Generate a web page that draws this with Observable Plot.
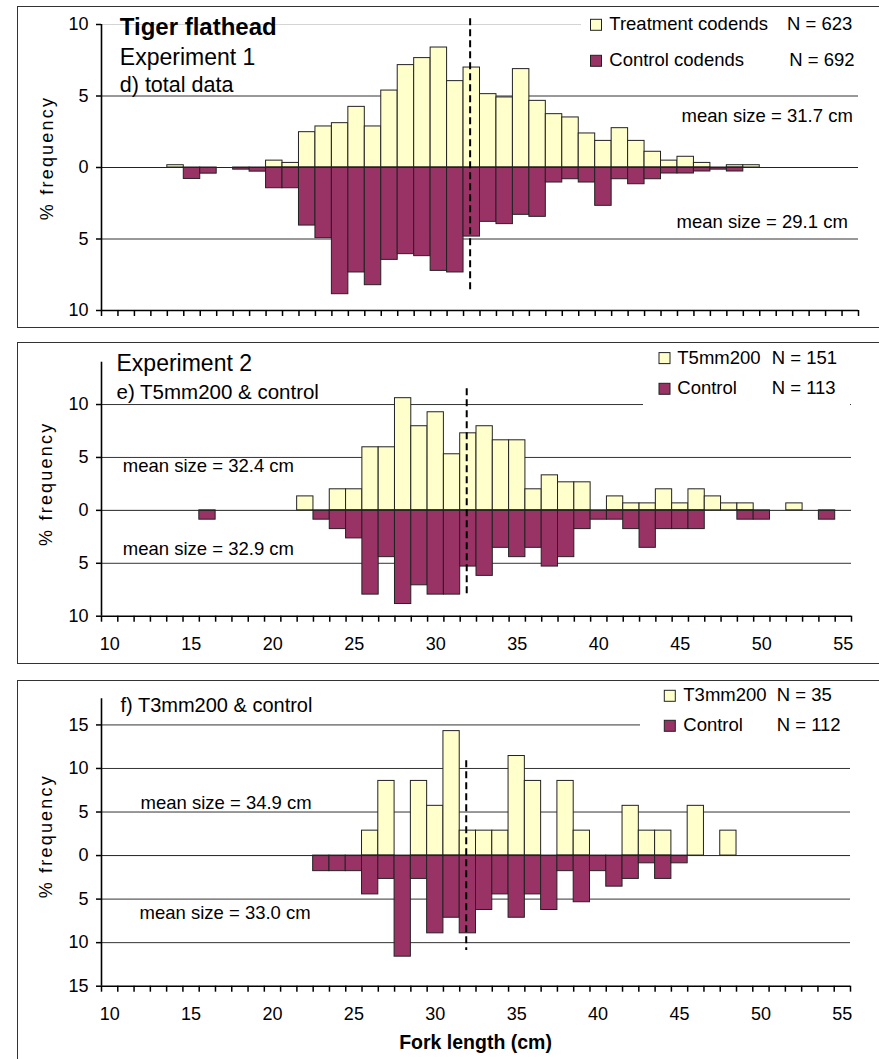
<!DOCTYPE html>
<html>
<head>
<meta charset="utf-8">
<script src="https://cdn.jsdelivr.net/npm/d3@7"></script>
<script src="https://cdn.jsdelivr.net/npm/@observablehq/plot@0.6"></script>
<style>
  html, body { margin: 0; padding: 0; background: #fff; overflow: hidden; }
  #page { position: relative; width: 879px; height: 1059px; overflow: hidden;
          font-family: "Liberation Sans", Arial, sans-serif; }
  .box { position: absolute; left: 17px; width: 900px; border: 1.5px solid #333; box-sizing: border-box; }
  .panel { position: absolute; left: 0; width: 879px; }
</style>
</head>
<body>
<div id="page"></div>
<script>
// ---------------- DATA ----------------
const forkTicks = [10, 15, 20, 25, 30, 35, 40, 45, 50, 55];
const dashedAt = 31.9;

// d) Experiment 1, total data
const dSeries = ["Treatment codends", "Control codends"];
const dN = [623, 692];
const dMeans = [31.7, 29.1];
const dTreatLen = [14,20,21,22,23,24,25,26,27,28,29,30,31,32,33,34,35,36,37,38,39,40,41,42,43,44,45,46,48,49];
const dTreatPct = [0.16,0.48,0.32,2.47,2.87,3.1,4.24,2.87,5.38,7.16,7.65,8.39,6.04,6.99,5.13,4.9,6.88,4.66,3.73,3.5,2.38,1.86,2.75,1.86,1.1,0.48,0.75,0.32,0.16,0.16];
const dCtrlLen = [15,16,18,19,20,21,22,23,24,25,26,27,28,29,30,31,32,33,34,35,36,37,38,39,40,41,42,43,44,45,46,47,48];
const dCtrlPct = [0.8,0.43,0.15,0.29,1.45,1.45,4.06,4.94,8.86,7.34,8.23,6.46,6.06,6.2,7.23,7.34,4.83,3.8,3.96,3.31,3.45,1.05,0.82,1.05,2.68,0.82,1.17,0.82,0.42,0.42,0.28,0.15,0.28];

// e) Experiment 2, T5mm200 & control
const eSeries = ["T5mm200", "Control"];
const eN = [151, 113];
const eMeans = [32.4, 32.9];
const eTreatLen = [22,24,25,26,27,28,29,30,31,32,33,34,35,36,37,38,39,41,42,43,44,45,46,47,48,49,52];
const eTreatPct = [1.32,1.99,1.99,5.96,5.96,10.6,7.95,9.27,5.3,7.28,7.95,6.62,6.62,1.99,3.31,2.65,2.65,1.32,0.66,0.66,1.99,0.66,1.99,1.32,0.66,0.66,0.66];
const eCtrlLen = [16,23,24,25,26,27,28,29,30,31,32,33,34,35,36,37,38,39,40,41,42,43,44,45,46,49,50,54];
const eCtrlPct = [0.88,0.88,1.77,2.65,7.96,4.42,8.85,7.08,7.96,7.96,5.31,6.19,3.54,4.42,3.54,5.31,4.42,1.77,0.88,0.88,1.77,3.54,1.77,1.77,1.77,0.88,0.88,0.88];

// f) T3mm200 & control
const fSeries = ["T3mm200", "Control"];
const fN = [35, 112];
const fMeans = [34.9, 33.0];
const fTreatLen = [26,27,29,30,31,32,33,34,35,36,38,39,42,43,44,46,48];
const fTreatPct = [2.86,8.57,8.57,5.71,14.29,2.86,2.86,2.86,11.43,8.57,8.57,2.86,5.71,2.86,2.86,5.71,2.86];
const fCtrlLen = [23,24,25,26,27,28,29,30,31,32,33,34,35,36,37,38,39,40,41,42,43,44,45];
const fCtrlPct = [1.79,1.79,1.79,4.46,2.68,11.61,2.68,8.93,7.14,8.93,6.25,4.46,7.14,4.46,6.25,1.79,5.36,1.79,3.57,2.68,0.89,2.68,0.89];

// ---------------- STYLE ----------------
const YELLOW = "#FFFFCC";
const PLUM = "#993366";
const FONT = "'Liberation Sans', Arial, sans-serif";
const xEdges = d3.range(9.5, 56, 1);

const rows = (lens, pcts) => lens.map((len, i) => ({len, pct: pcts[i]}));

function txt(p, s, x, base, fs, anchor = "start", bold = false) {
  return Plot.text([s], {
    text: d => d,
    frameAnchor: "top-left",
    dx: x - p.ml,
    dy: base - 0.71 * fs - p.mt,
    lineAnchor: "top",
    textAnchor: anchor,
    fontSize: fs,
    fontWeight: bold ? "bold" : "normal",
    fill: "black"
  });
}

function panel(p) {
  const plotH = p.height - p.mt - p.mb;
  const frameCy = p.mt + plotH / 2;
  const marks = [
    Plot.ruleY(p.lightGrid, {stroke: "#d4d4d4", strokeWidth: 1}),
    Plot.ruleY(p.grid, {stroke: "#333", strokeWidth: 1}),
    Plot.rect(rows(p.tLen, p.tPct), {x1: d => d.len - 0.5, x2: d => d.len + 0.5, y1: 0, y2: d => d.pct,
      fill: YELLOW, stroke: "#222", strokeWidth: 1}),
    Plot.rect(rows(p.cLen, p.cPct), {x1: d => d.len - 0.5, x2: d => d.len + 0.5, y1: 0, y2: d => -d.pct,
      fill: PLUM, stroke: "#222", strokeWidth: 1}),
    Plot.ruleY([0], {stroke: "#222", strokeWidth: 1}),
    Plot.ruleX([9.5], {stroke: "black", strokeWidth: 1.6}),
    Plot.ruleY([p.yDomain[0]], {stroke: "black", strokeWidth: 1.6}),
    Plot.ruleX([dashedAt], {y1: p.dash[0], y2: p.dash[1], stroke: "black", strokeWidth: 2, strokeDasharray: "7,4"}),
    Plot.axisY({ticks: p.yTicks, tickSize: 5, tickPadding: 8, tickFormat: d => String(Math.abs(d)),
      fontSize: 18, label: null, strokeWidth: 1.5}),
    Plot.axisX({ticks: xEdges, tickSize: 6, tickFormat: () => "", label: null, strokeWidth: 1.5}),
    Plot.text(["% frequency"], {text: d => d, frameAnchor: "left", dx: p.ylab[0] - p.ml, dy: p.ylab[1] - frameCy,
      rotate: -90, textAnchor: "middle", lineAnchor: "middle", fontSize: 18, fill: "black"})
  ];
  if (p.xLabels) marks.push(Plot.axisX({ticks: forkTicks, tickSize: 0, tickPadding: 21, fontSize: 18, label: null}));
  for (const t of p.texts) marks.push(txt(p, ...t));

  const svg = Plot.plot({
    width: 879, height: p.height,
    marginTop: p.mt, marginBottom: p.mb, marginLeft: p.ml, marginRight: p.mr,
    x: {type: "linear", domain: [9.5, 55.5]},
    y: {type: "linear", domain: p.yDomain},
    style: {fontFamily: FONT, fontSize: "18px", color: "black", background: "transparent", overflow: "visible"},
    marks
  });

  d3.select(svg).selectAll("text").filter(function () { return this.textContent === "% frequency"; })
    .attr("letter-spacing", "2.2px");

  // legend (white box hides the grid line behind it)
  const L = p.legend;
  const g = d3.select(svg).append("g")
    .attr("font-family", FONT).attr("font-size", 18.5).attr("text-anchor", "start").attr("fill", "black");
  g.append("rect").attr("x", L.bg[0]).attr("y", L.bg[1]).attr("width", L.bg[2]).attr("height", L.bg[3]).attr("fill", "white");
  [YELLOW, PLUM].forEach((c, i) => {
    g.append("rect").attr("x", L.sx).attr("y", L.base[i] - 11).attr("width", 11).attr("height", 11)
      .attr("fill", c).attr("stroke", "#222").attr("stroke-width", 1);
    g.append("text").attr("x", L.tx).attr("y", L.base[i]).attr("text-anchor", "start").text(p.series[i]);
    g.append("text").attr("x", L.nx[i]).attr("y", L.base[i]).attr("text-anchor", "start").text(`N = ${p.n[i]}`);
  });

  const wrap = document.createElement("div");
  wrap.className = "panel";
  wrap.style.top = p.top + "px";
  wrap.appendChild(svg);
  return wrap;
}

const page = document.getElementById("page");
[[6, 322], [342, 322], [680, 420]].forEach(([t, h]) => {
  const b = document.createElement("div");
  b.className = "box"; b.style.top = t + "px"; b.style.height = h + "px";
  page.appendChild(b);
});

const meanTxt = v => `mean size = ${v.toFixed(1)} cm`;

const P1 = {top: 0, height: 335, mt: 24, mb: 25, ml: 101, mr: 21,
  yDomain: [-10, 10], yTicks: [-10, -5, 0, 5, 10], grid: [5, -5], lightGrid: [10],
  dash: [10.4, -8.6], xLabels: false, ylab: [46.7, 157.5],
  tLen: dTreatLen, tPct: dTreatPct, cLen: dCtrlLen, cPct: dCtrlPct,
  series: dSeries, n: dN,
  legend: {bg: [581, 9, 277, 68], sx: 590.5, tx: 609.3, nx: [787, 789.3], base: [30.3, 66.3]},
  texts: [
    ["Tiger flathead", 119.3, 34.3, 24, "start", true],
    ["Experiment 1", 119.3, 64, 23],
    ["d) total data", 119.3, 91.7, 21.5],
    [meanTxt(dMeans[0]), 852.3, 121.7, 18.5, "end"],
    [meanTxt(dMeans[1]), 847.3, 227.7, 18.5, "end"]
  ]};

const P2 = {top: 335, height: 335, mt: 26.7, mb: 54.3, ml: 101, mr: 28,
  yDomain: [-10, 14], yTicks: [-10, -5, 0, 5, 10], grid: [10, 5, -5], lightGrid: [],
  dash: [11.5, -8.2], xLabels: true, ylab: [46, 148.3],
  tLen: eTreatLen, tPct: eTreatPct, cLen: eCtrlLen, cPct: eCtrlPct,
  series: eSeries, n: eN,
  legend: {bg: [643, 10, 207, 65], sx: 659, tx: 677.3, nx: [771.7, 771.7], base: [28.6, 59.3]},
  texts: [
    ["Experiment 2", 116, 35, 23],
    ["e) T5mm200 & control", 116, 63.3, 20.5],
    [meanTxt(eMeans[0]), 122.3, 136.7, 18.5],
    [meanTxt(eMeans[1]), 122.3, 219, 18.5]
  ]};

const P3 = {top: 670, height: 389, mt: 28.3, mb: 73.3, ml: 101, mr: 29,
  yDomain: [-15, 18], yTicks: [-15, -10, -5, 0, 5, 10, 15], grid: [15, 10, 5, -5, -10], lightGrid: [],
  dash: [10.9, -10.9], xLabels: true, ylab: [46, 165.7],
  tLen: fTreatLen, tPct: fTreatPct, cLen: fCtrlLen, cPct: fCtrlPct,
  series: fSeries, n: fN,
  legend: {bg: [640, 13, 210, 62], sx: 664.3, tx: 683.3, nx: [776.7, 776.7], base: [31.3, 61.3]},
  texts: [
    ["f) T3mm200 & control", 120, 41, 20],
    [meanTxt(fMeans[0]), 140, 138.3, 18.5],
    [meanTxt(fMeans[1]), 139, 248.3, 18.5],
    ["Fork length (cm)", 475, 378.3, 19.5, "middle", true]
  ]};

[P1, P2, P3].forEach(p => page.appendChild(panel(p)));
</script>
</body>
</html>
